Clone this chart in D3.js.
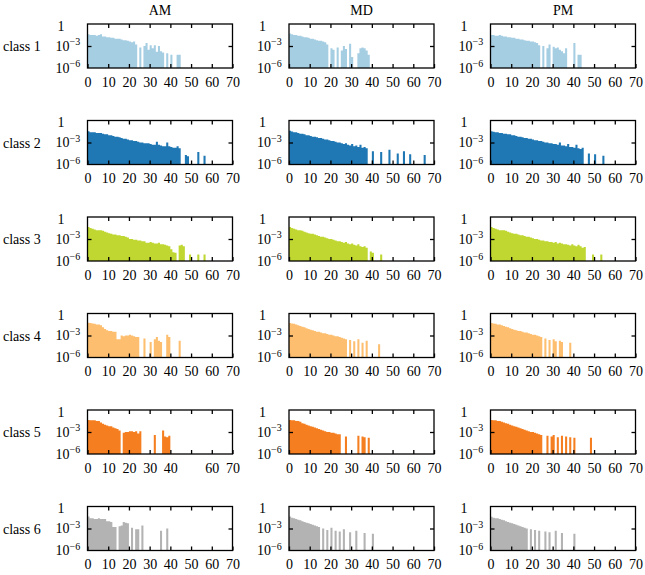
<!DOCTYPE html>
<html><head><meta charset="utf-8">
<script src="https://cdn.jsdelivr.net/npm/d3@7"></script>
<style>
body{margin:0;background:#fff}
svg text{font-family:"Liberation Serif","Times New Roman",serif;fill:#000}
</style>
</head><body>
<svg id="chart" width="645" height="575"></svg>
<script>
// ---------- labels ----------
const periods = ["AM", "MD", "PM"];
const classes = ["class 1", "class 2", "class 3", "class 4", "class 5", "class 6"];
const classColors = ["#a6cee3", "#1f78b4", "#bfd730", "#fdbf6f", "#f57f20", "#b3b3b3"];
const xTickValues = [0, 10, 20, 30, 40, 50, 60, 70];
const yTickValues = [1, 1e-3, 1e-6];
const yTickExponents = [null, "\u22123", "\u22126"];
// panels whose x tick labels are incomplete in the original (class 5 AM lacks "50")
const xTickLabelsClass5AM = [0, 10, 20, 30, 40, 60, 70];

// ---------- histogram values (frequency per unit bin, starting at 0) ----------
const c1_AM = [0.04,0.032,0.032,0.032,0.025,0.032,0.04,0.02,0.02,0.016,0.016,0.013,0.013,0.01,0.01,0.01,0.008,0.0063,0.0063,0.005,0.004,0.0032,0.004,0.0016,0,6.3e-4,0,0.001,0.0025,3.2e-4,0.0013,5e-4,0.0013,1.6e-4,0.001,2e-4,1.3e-4,0,1e-4,0,6.3e-5,0,0,6.3e-5,6.3e-5];
const c1_MD = [0.05,0.04,0.032,0.032,0.025,0.025,0.02,0.016,0.016,0.013,0.01,0.01,0.008,0.0063,0.005,0.005,0.004,0.0032,0.0016,0,5e-4,3.2e-4,0,6.3e-4,0,2.5e-4,0.001,4e-4,0,0.002,3.2e-5,0,0,1e-4,5e-4,6.3e-4,5e-4,2.5e-4,6.3e-5];
const c1_PM = [0.032,0.032,0.025,0.025,0.032,0.025,0.02,0.02,0.016,0.016,0.013,0.013,0.01,0.01,0.008,0.008,0.0063,0.005,0.005,0.004,0.004,0.0032,0.0025,0.0013,0,0.001,0,5e-4,0.0016,0,8e-4,5e-4,6.3e-4,3.2e-4,2e-4,1e-4,5e-4,0,0,0,0.0025,0,6.3e-5,6.3e-5];

const c2_AM = [0.035,0.025,0.025,0.025,0.02,0.02,0.02,0.016,0.013,0.013,0.01,0.01,0.008,0.0063,0.0063,0.005,0.004,0.0032,0.0032,0.0025,0.002,0.002,0.0016,0.0016,0.0013,0.001,0.001,8e-4,8e-4,8e-4,6.3e-4,5e-4,5e-4,0.0013,5e-4,4e-4,3.2e-4,3.2e-4,0.001,3.2e-4,2.5e-4,2e-4,2e-4,3.2e-4,1.6e-4,0,0,2e-5,1.3e-5,0,0,0,0,5e-5,0,0,1.6e-5];
const c2_MD = [0.04,0.032,0.025,0.025,0.02,0.016,0.016,0.013,0.01,0.01,0.008,0.0063,0.0063,0.005,0.004,0.004,0.0032,0.0025,0.0025,0.002,0.0016,0.0016,0.0013,0.001,0.001,8e-4,6.3e-4,8e-4,5e-4,4e-4,6.3e-4,3.2e-4,4e-4,2.5e-4,5e-4,2e-4,2.5e-4,1.6e-4,0,0,6.3e-5,0,0,0,5e-5,0,0,0,1e-4,0,0,0,3.2e-5,0,0,6.3e-5,0,0,2.5e-5,0,0,0,0,0,0,2e-5];
const c2_PM = [0.035,0.03,0.025,0.025,0.02,0.02,0.016,0.016,0.013,0.013,0.01,0.01,0.008,0.0063,0.0063,0.005,0.004,0.004,0.0032,0.0032,0.0025,0.002,0.002,0.0016,0.0016,0.0013,0.001,0.001,8e-4,8e-4,6.3e-4,6.3e-4,5e-4,0.001,4e-4,4e-4,3.2e-4,6.3e-4,2.5e-4,2.5e-4,2e-4,5e-4,1.6e-4,1.3e-4,2e-4,0,0,3.2e-5,0,0,2.5e-5,0,0,0,1.6e-5];

const c3_AM = [0.045,0.032,0.025,0.02,0.016,0.016,0.016,0.013,0.01,0.008,0.0063,0.005,0.004,0.004,0.0032,0.0032,0.0025,0.0025,0.002,0.0016,0.001,0.001,8e-4,8e-4,6.3e-4,6.3e-4,5e-4,5e-4,3.2e-4,3.2e-4,4e-4,3.2e-4,2.5e-4,2.5e-4,3.2e-4,2e-4,2e-4,1.6e-4,1.3e-4,1e-4,4e-5,1.6e-5,1.3e-5,0,1.3e-4,1.6e-4,1e-4,0,0,8e-6,0,0,0,8e-6,0,0,8e-6];
const c3_MD = [0.045,0.032,0.025,0.02,0.016,0.016,0.013,0.01,0.008,0.0063,0.005,0.005,0.004,0.0032,0.0025,0.002,0.002,0.0016,0.0013,0.001,0.001,8e-4,6.3e-4,5e-4,5e-4,4e-4,3.2e-4,4e-4,2.5e-4,2e-4,2.5e-4,1.6e-4,1.3e-4,2e-4,1e-4,8e-5,1e-4,6.3e-5,0,2e-5,1.3e-5,0,0,0,8e-6];
const c3_PM = [0.045,0.032,0.025,0.02,0.016,0.016,0.016,0.013,0.01,0.008,0.0063,0.005,0.005,0.004,0.0032,0.0032,0.0025,0.002,0.002,0.0016,0.0013,0.001,0.001,8e-4,6.3e-4,6.3e-4,5e-4,5e-4,4e-4,4e-4,3.2e-4,4e-4,2.5e-4,3.2e-4,2.5e-4,2e-4,2e-4,1.6e-4,1.3e-4,2e-4,1.3e-4,1e-4,1.6e-4,1e-4,6.3e-5,8e-5,0,0,0,8e-6,0,0,0,8e-6];

const c4_AM = [0.056,0.05,0.045,0.04,0.032,0.032,0.025,0.013,0.008,0.005,0.004,0.004,0.0032,0.0032,3.2e-4,3.2e-4,0.001,8e-4,0.001,0.001,0.0013,0.001,8e-4,6.3e-4,6.3e-4,0,0,4e-4,0,0,1.3e-4,0,3.2e-4,6.3e-4,2e-4,1.3e-4,0,0,0.0013,6.3e-4,0,0,0,0,2e-4];
const c4_MD = [0.05,0.045,0.04,0.032,0.025,0.02,0.016,0.013,0.01,0.008,0.0063,0.005,0.004,0.0032,0.0032,0.0025,0.002,0.002,0.0016,0.0013,0.0013,0.001,8e-4,8e-4,6.3e-4,5e-4,4e-4,3.2e-4,0,2.5e-4,0,1.6e-4,0,3.2e-4,0,1e-4,0,2e-4,0,0,0,0,0,6.3e-5];
const c4_PM = [0.05,0.045,0.04,0.032,0.032,0.025,0.02,0.016,0.013,0.01,0.008,0.0063,0.005,0.004,0.004,0.0032,0.0025,0.0025,0.002,0.0016,0.0013,0.0013,0.001,8e-4,6.3e-4,0,4e-4,0,2.5e-4,0,3.2e-4,1.6e-4,0,2e-4,1.3e-4,0,0,0,1e-4];

const c5_AM = [0.045,0.04,0.04,0.04,0.032,0.032,0.02,0.013,0.01,0.008,0.0063,0.0063,0.004,0.0032,0.0025,0.0016,0,8e-4,0.001,0.001,0.0013,0.0013,0.001,0.0013,6.3e-4,0.0013,0,0,0,0,0,0,4e-4,0,0,0,0.0016,2.5e-4,2e-4,3.2e-4];
const c5_MD = [0.045,0.04,0.04,0.032,0.032,0.025,0.016,0.013,0.01,0.008,0.0063,0.005,0.004,0.0032,0.0025,0.002,0.0016,0.0013,0.001,0.001,8e-4,8e-4,6.3e-4,5e-4,5e-4,0,0,2.5e-4,0,0,0,0,0,3.2e-4,0,2.5e-4,2e-4,0,1.6e-4];
const c5_PM = [0.045,0.04,0.04,0.032,0.032,0.025,0.02,0.016,0.013,0.01,0.008,0.0063,0.005,0.004,0.0032,0.0025,0.002,0.0016,0.0013,0.001,0.001,8e-4,6.3e-4,5e-4,4e-4,0,0,3.2e-4,0,2.5e-4,4e-4,0,2e-4,0,3.2e-4,0,2.5e-4,0,2e-4,0,1.6e-4,0,0,0,0,0,0,0,1.6e-4];

const c6_AM = [0.045,0.025,0.025,0.02,0.02,0.025,0.02,0.02,0.02,0.01,0.01,0.008,0.0016,0.0016,0,0.002,0.0025,0.008,0.0063,0.005,0,0.0013,0,8e-4,8e-4,0,0.0025,0,0,0,0,0,0,0,0,5e-4,0,0,0.001];
const c6_MD = [0.045,0.03,0.025,0.02,0.016,0.013,0.01,0.008,0.0063,0.005,0.004,0.0032,0.0025,0.002,0.0016,0,0.001,0,6.3e-4,0,0.0013,0,5e-4,0,4e-4,0,8e-4,0,0,3.2e-4,0,0,5e-4,0,0,0,2.5e-4,0,0,0,2e-4];
const c6_PM = [0.04,0.03,0.025,0.025,0.02,0.016,0.013,0.01,0.008,0.0063,0.005,0.004,0.0032,0.0025,0.002,0.0016,0.0013,0.001,0,8e-4,0,6.3e-4,0,5e-4,0,0,4e-4,0,3.2e-4,0,0,5e-4,0,0,2.5e-4,0,0,0,0,0,2e-4];

const panels = [
  [c1_AM, c1_MD, c1_PM],
  [c2_AM, c2_MD, c2_PM],
  [c3_AM, c3_MD, c3_PM],
  [c4_AM, c4_MD, c4_PM],
  [c5_AM, c5_MD, c5_PM],
  [c6_AM, c6_MD, c6_PM]
];

// ---------- layout ----------
const svg = d3.select("#chart");
const W = 145, H = 44;
const colLeft = [87.5, 289, 490.5];
const rowTop0 = 24, rowStep = 96.5;
const FS = 14;

const x = d3.scaleLinear().domain([0, 70]).range([0, W]);
const y = d3.scaleLog().domain([1e-6, 1]).range([H, 0]);

// column titles
periods.forEach((p, j) => {
  svg.append("text").attr("x", colLeft[j] + W / 2).attr("y", 14.5)
    .attr("text-anchor", "middle").attr("font-size", FS).text(p);
});

classes.forEach((cls, i) => {
  const top = rowTop0 + i * rowStep;
  svg.append("text").attr("x", 3).attr("y", top + H / 2 + 5)
    .attr("font-size", FS).text(cls);

  periods.forEach((p, j) => {
    const g = svg.append("g").attr("transform", `translate(${colLeft[j]},${top})`);
    const vals = panels[i][j];

    // bars as one path (unit-width bins)
    const path = d3.path();
    vals.forEach((v, k) => {
      if (v > 0) {
        const x0 = x(k), x1 = x(k + 1), yt = y(Math.max(v, 1e-6));
        path.rect(x0, yt, x1 - x0, H - yt);
      }
    });
    g.append("path").attr("d", path.toString()).attr("fill", classColors[i]);

    // inward ticks
    const tickStyle = sel => {
      sel.select(".domain").remove();
      sel.selectAll(".tick line").attr("stroke", "#000").attr("stroke-width", 1.3);
    };
    const labelSet = (i === 4 && j === 0) ? xTickLabelsClass5AM : xTickValues;
    g.append("g").attr("transform", `translate(0,${H})`)
      .call(d3.axisBottom(x).tickValues(xTickValues).tickSize(-4).tickPadding(9)
        .tickFormat(d => labelSet.includes(d) ? String(d) : ""))
      .call(tickStyle)
      .call(s => s.selectAll(".tick text").attr("font-size", FS));
    g.append("g")
      .call(d3.axisTop(x).tickValues(xTickValues.slice(1, -1)).tickSize(-4).tickFormat(""))
      .call(tickStyle);
    g.append("g").attr("transform", `translate(${W},0)`)
      .call(d3.axisRight(y).tickValues([1e-3]).tickSize(-4).tickFormat(""))
      .call(tickStyle);
    g.append("g")
      .call(d3.axisLeft(y).tickValues([1e-3]).tickSize(-4).tickFormat(""))
      .call(tickStyle);

    // frame
    g.append("rect").attr("x", 0).attr("y", 0).attr("width", W).attr("height", H)
      .attr("fill", "none").attr("stroke", "#000").attr("stroke-width", 1.3);

    // y tick labels
    yTickValues.forEach((tv, t) => {
      const ty = y(tv);
      if (yTickExponents[t] === null) {
        g.append("text").attr("x", -30).attr("y", ty + 6.5).attr("font-size", FS).text("1");
      } else {
        const tx = g.append("text").attr("x", -32).attr("y", ty + 4.5).attr("font-size", FS);
        tx.append("tspan").text("10");
        tx.append("tspan").attr("dy", -5.5).attr("font-size", 10).text(yTickExponents[t]);
      }
    });
  });
});
</script>
</body></html>
